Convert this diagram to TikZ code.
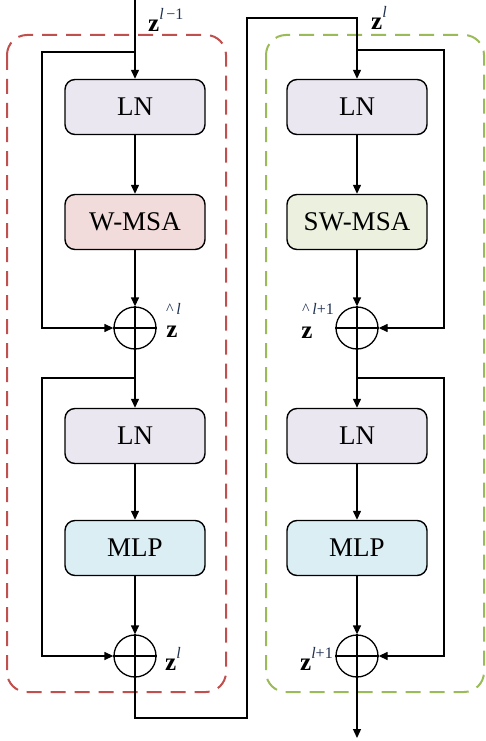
\documentclass[tikz,border=0pt]{standalone}
\usepackage{fontspec}
\setmainfont{Liberation Serif}
\usetikzlibrary{arrows.meta}
\definecolor{lnfill}{HTML}{EAE7F0}
\definecolor{msafill}{HTML}{F2DCDB}
\definecolor{swfill}{HTML}{EBF1DE}
\definecolor{mlpfill}{HTML}{DBEEF4}
\definecolor{redd}{HTML}{C0504D}
\definecolor{greend}{HTML}{9BBB59}
\definecolor{supc}{HTML}{1F3050}
\tikzset{
  blk/.style={draw=black, line width=1.4pt, rounded corners=10pt, minimum width=140pt, minimum height=55pt, font=\fontsize{27}{30}\selectfont, inner sep=0pt},
  addc/.style={draw, circle, line width=1.3pt, minimum size=42pt, inner sep=0pt},
  conn/.style={line width=1.3pt},
  arr/.style={conn, -{Triangle[length=9pt,width=8pt]}},
  lbl/.style={font=\fontsize{25}{27}\selectfont, inner sep=0pt},
  sup/.style={font=\fontsize{16}{17}\selectfont, inner sep=0pt, text=supc},
  grp/.style={line width=2pt, dash pattern=on 15pt off 9pt, rounded corners=20pt}
}
\newcommand{\supt}[1]{\raisebox{0.5em}{\fontsize{16}{17}\selectfont\color{supc}#1}}
\begin{document}
\begin{tikzpicture}[x=1pt,y=-1pt]
\useasboundingbox (0,0) rectangle (485,741);
% groups
\draw[grp, redd] (7,35) rectangle (226,692);
\draw[grp, greend] (266,35) rectangle (484,692);
% left column
\node[blk, fill=lnfill] (ln1) at (135,107) {LN};
\node[blk, fill=msafill] (wmsa) at (135,222) {W-MSA};
\node[addc] (add1) at (135,328) {};
\node[blk, fill=lnfill] (ln2) at (135,436) {LN};
\node[blk, fill=mlpfill] (mlp1) at (135,548) {MLP};
\node[addc] (add2) at (135,656) {};
% right column
\node[blk, fill=lnfill] (ln3) at (357,107) {LN};
\node[blk, fill=swfill] (swmsa) at (357,222) {SW-MSA};
\node[addc] (add3) at (357,328) {};
\node[blk, fill=lnfill] (ln4) at (357,436) {LN};
\node[blk, fill=mlpfill] (mlp2) at (357,548) {MLP};
\node[addc] (add4) at (357,656) {};
% plus signs
\foreach \n in {add1,add2,add3,add4}{
  \draw[conn] (\n.north) -- (\n.south);
  \draw[conn] (\n.west) -- (\n.east);
}
% coordinates
\coordinate (in) at (135,0);
\coordinate (s1) at (135,52);
\coordinate (l1) at (42,52);
\coordinate (s2) at (135,378);
\coordinate (l2) at (42,378);
\coordinate (b1) at (135,718);
\coordinate (b2) at (247,718);
\coordinate (t1) at (247,18);
\coordinate (t2) at (357,18);
\coordinate (s3) at (357,50);
\coordinate (r1) at (444,50);
\coordinate (s4) at (357,378);
\coordinate (r2) at (444,378);
\coordinate (out) at (357,738);
% left connectors
\draw[arr] (in) -- (ln1.north);
\draw[arr] (ln1) -- (wmsa);
\draw[arr] (wmsa) -- (add1.north);
\draw[arr] (s1) -- (l1) |- (add1.west);
\draw[arr] (add1.south) -- (ln2.north);
\draw[arr] (ln2) -- (mlp1);
\draw[arr] (mlp1) -- (add2.north);
\draw[arr] (s2) -- (l2) |- (add2.west);
\draw[arr] (add2.south) -- (b1) -- (b2) -- (t1) -- (t2) -- (ln3.north);
% right connectors
\draw[arr] (ln3) -- (swmsa);
\draw[arr] (swmsa) -- (add3.north);
\draw[arr] (s3) -- (r1) |- (add3.east);
\draw[arr] (add3.south) -- (ln4.north);
\draw[arr] (ln4) -- (mlp2);
\draw[arr] (mlp2) -- (add4.north);
\draw[arr] (s4) -- (r2) |- (add4.east);
\draw[arr] (add4.south) -- (out);
% labels
\node[lbl, anchor=west] (zin) at (148,20) {\textbf{z}\supt{\textit{l}\,−1}};
\node[lbl, anchor=west] (zl) at (371,18) {\textbf{z}\supt{\textit{l}}};
\node[lbl] (zh1) at (172,332) {\textbf{z}};
\node[sup, anchor=west] (hh1) at (166,309) {\textasciicircum\,\textit{l}};
\node[lbl] (zh2) at (307,333) {\textbf{z}};
\node[sup, anchor=west] (hh2) at (302,309) {\textasciicircum\,\textit{l}+1};
\node[lbl, anchor=west] (zo1) at (165,659) {\textbf{z}\supt{\textit{l}}};
\node[lbl, anchor=west] (zo2) at (300,659) {\textbf{z}\supt{\textit{l}+1}};
\end{tikzpicture}
\end{document}
